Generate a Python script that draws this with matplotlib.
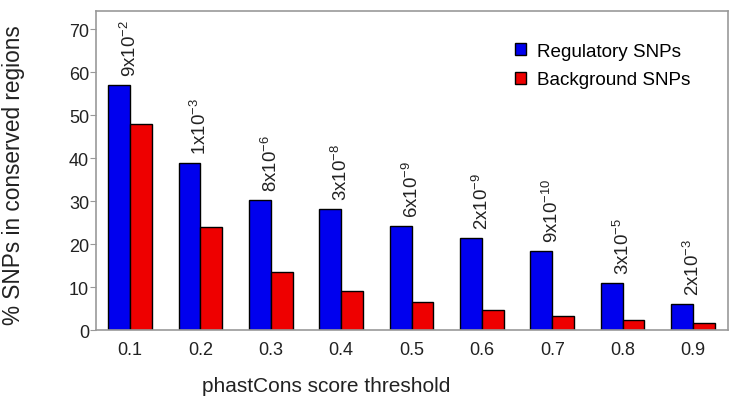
import matplotlib
matplotlib.use("Agg")
import matplotlib.pyplot as plt
import numpy as np

thresholds = ["0.1", "0.2", "0.3", "0.4", "0.5", "0.6", "0.7", "0.8", "0.9"]
regulatory = [57.0, 38.8, 30.3, 28.1, 24.1, 21.4, 18.4, 10.9, 6.0]
background = [48.0, 24.0, 13.5, 9.0, 6.4, 4.6, 3.3, 2.3, 1.6]
pvalues = [("9", "-2"), ("1", "-3"), ("8", "-6"), ("3", "-8"), ("6", "-9"),
           ("2", "-9"), ("9", "-10"), ("3", "-5"), ("2", "-3")]

plt.rcParams['font.family'] = ['Liberation Sans', 'DejaVu Sans']
plt.rcParams['mathtext.default'] = 'regular'

fig = plt.figure(figsize=(7.34, 4.06), dpi=100)
ax = fig.add_axes([0.1308, 0.1847, 0.861, 0.7857])

x = np.arange(1, len(thresholds) + 1)
w = 0.31
ax.bar(x - w / 2, regulatory, w, color='#0000ee', edgecolor='black', linewidth=1.0,
       label='Regulatory SNPs')
ax.bar(x + w / 2, background, w, color='#ee0000', edgecolor='black', linewidth=1.0,
       label='Background SNPs')

for xi, v, (m, e) in zip(x, regulatory, pvalues):
    ax.text(xi, v + 2.1, f"{m}x10$^{{{e}}}$", rotation=90, ha='center', va='bottom',
            fontsize=13.4, color='#222222')

ax.set_xlim(0.517, 9.497)
ax.set_ylim(0, 74.2)
ax.set_yticks(range(0, 71, 10))
ax.set_xticks(x)
ax.set_xticklabels(thresholds)
ax.tick_params(axis='y', length=4, color='#999999', labelsize=13, labelcolor='#222222', pad=1)
ax.tick_params(axis='x', length=0, labelsize=13, labelcolor='#222222', pad=8)
for s in ax.spines.values():
    s.set_color('#999999')
    s.set_linewidth(1.2)

ax.set_ylabel('% SNPs in conserved regions', fontsize=16.3, color='#222222')
ax.yaxis.set_label_coords(-0.113, 0.49)
ax.set_xlabel('phastCons score threshold', fontsize=15, color='#222222')
ax.xaxis.set_label_coords(0.365, -0.145)

leg = ax.legend(loc='upper right', bbox_to_anchor=(0.968, 0.953), frameon=False, fontsize=13.6,
                handlelength=0.6, handleheight=0.6, handletextpad=0.6, labelspacing=0.6)

fig.savefig('out.png', dpi=100)
